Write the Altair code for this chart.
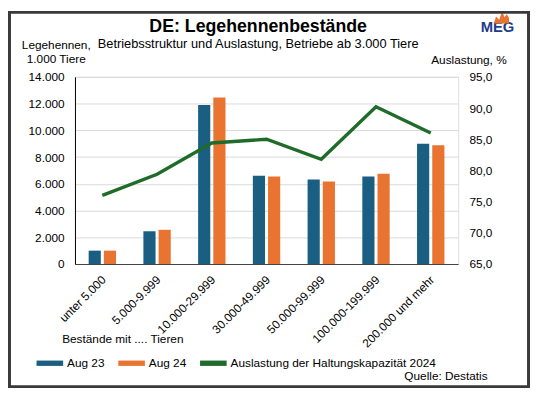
import altair as alt
import pandas as pd

categories = ["unter 5.000", "5.000-9.999", "10.000-29.999", "30.000-49.999",
              "50.000-99.999", "100.000-199.999", "200.000 und mehr"]
aug23 = [1000, 2450, 11900, 6600, 6320, 6550, 9000]
aug24 = [1000, 2560, 12450, 6550, 6180, 6760, 8880]
auslastung = [76.0, 79.4, 84.4, 85.0, 81.8, 90.2, 86.0]

series_names = ["Aug 23", "Aug 24", "Auslastung der Haltungskapazität 2024"]
colors = ["#1a5e82", "#e97432", "#1f6b2a"]

FONT = "Liberation Sans"

bars_df = pd.DataFrame({
    "Kategorie": categories * 2,
    "Serie": ["Aug 23"] * len(categories) + ["Aug 24"] * len(categories),
    "Wert": aug23 + aug24,
})
line_df = pd.DataFrame({"Kategorie": categories, "Auslastung": auslastung})

color_scale = alt.Scale(domain=series_names, range=colors)
x_enc = alt.X("Kategorie:N", sort=categories, title=None,
              scale=alt.Scale(paddingInner=0.5, paddingOuter=0.25),
              axis=alt.Axis(labelAngle=-45, ticks=False, domainColor="#404040",
                            labelFont=FONT, labelFontSize=12, labelColor="black",
                            labelPadding=10, labelOffset=-2))

legend = alt.Legend(
    title=None, orient="none", legendX=-39, legendY=277, direction="horizontal",
    symbolType="M-1,-0.2L1,-0.2L1,0.2L-1,0.2Z", symbolSize=729,
    symbolStrokeWidth=0, symbolOpacity=1, labelLimit=0,
    labelFont=FONT, labelFontSize=12, labelColor="black", labelOffset=4,
    columnPadding=13,
)

bars = alt.Chart(bars_df).mark_bar().encode(
    x=x_enc,
    xOffset=alt.XOffset("Serie:N", scale=alt.Scale(paddingInner=0.2, paddingOuter=0)),
    y=alt.Y("Wert:Q", title=None,
            scale=alt.Scale(domain=[0, 14000]),
            axis=alt.Axis(values=list(range(0, 14001, 2000)), ticks=False,
                          domainColor="black", gridColor="#d9d9d9",
                          labelFont=FONT, labelFontSize=12, labelColor="black",
                          labelPadding=11,
                          labelExpr="replace(format(datum.value, ',.0f'), ',', '.')")),
    color=alt.Color("Serie:N", scale=color_scale, legend=legend),
)

line = alt.Chart(line_df).mark_line(strokeWidth=3.4).encode(
    x=alt.X("Kategorie:N", sort=categories),
    y=alt.Y("Auslastung:Q", title=None,
            scale=alt.Scale(domain=[65, 95]),
            axis=alt.Axis(orient="right", values=list(range(65, 96, 5)), grid=False,
                          ticks=False, domain=False,
                          labelFont=FONT, labelFontSize=12, labelColor="black",
                          labelPadding=11,
                          labelExpr="replace(format(datum.value, '.1f'), '.', ',')")),
    color=alt.Color("s:N", scale=color_scale, legend=legend),
).transform_calculate(s="'Auslastung der Haltungskapazität 2024'")

one = pd.DataFrame({"a": [0]})

def label(text, x, y, size=12, align="center", weight="normal", color="black"):
    return alt.Chart(one).mark_text(text=text, font=FONT, fontSize=size, align=align,
                                    baseline="middle", fontWeight=weight, color=color).encode(
        x=alt.value(x), y=alt.value(y))

texts = [
    label("DE: Legehennenbestände", 186, -51, size=18, weight="bold"),
    label("Betriebsstruktur und Auslastung, Betriebe ab 3.000 Tiere", 186, -33, size=13),
    label("Legehennen,", -19, -32),
    label("1.000 Tiere", -19, -18),
    label("Auslastung, %", 400, -17),
    label("Bestände mit .... Tieren", -13, 266, align="left"),
    label("Quelle: Destatis", 419, 304, align="right"),
    label("MEG", 429, -51, size=15, weight="bold", color="#1f3c88"),
]

flame = alt.Chart(one).mark_point(
    shape="M-1,1L-0.7,0.1L-0.3,0.5L0.1,-0.6L0.4,0.2L0.7,-0.2L1,0.3L1,1Z",
    filled=True, color="#e8742f", opacity=1, size=240).encode(
    x=alt.value(433), y=alt.value(-62))

border = alt.Chart(one).mark_rect(fill=None, stroke="#3a3a3a", strokeWidth=3).encode(
    x=alt.value(-66.5), x2=alt.value(460.5), y=alt.value(-65.5), y2=alt.value(314.5))

bar_line = alt.layer(bars, line).resolve_scale(y="independent")

chart = alt.layer(bar_line, *texts, flame, border).properties(
    width=389, height=190,
    autosize=alt.AutoSizeParams(type="none"),
    padding={"left": 68, "top": 67, "right": 73, "bottom": 126},
).configure_view(stroke=None).configure(background="white")

chart.save("out.html", embed_options={"renderer": "svg", "actions": False})
